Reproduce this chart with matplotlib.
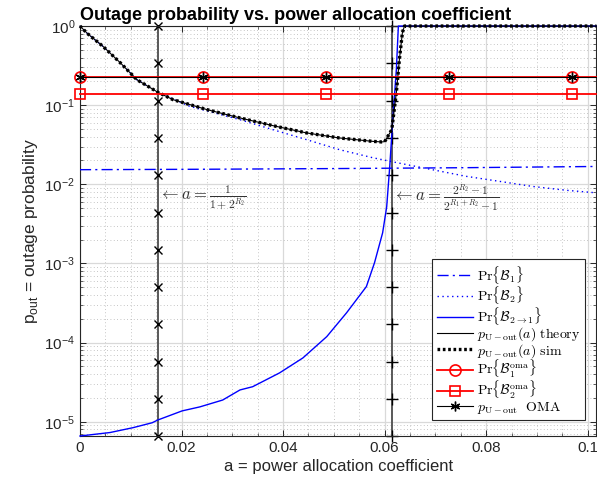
import matplotlib
matplotlib.use("Agg")
import matplotlib.pyplot as plt
from matplotlib.font_manager import FontProperties
from matplotlib.ticker import MultipleLocator, LogLocator, NullFormatter

plt.rcParams["font.family"] = ["Liberation Sans", "DejaVu Sans"]

# values
a_b1 = [0.0, 0.025, 0.05, 0.075, 0.1017]
pr_b1 = [0.0153, 0.0155, 0.0158, 0.0162, 0.0168]

a_b2 = [0.0, 0.0015, 0.0045, 0.0079, 0.0112, 0.0153, 0.0216, 0.0315, 0.038,
        0.0446, 0.0511, 0.0576, 0.0629, 0.0694, 0.0761, 0.0826, 0.0891,
        0.0958, 0.1017]
pr_b2 = [1.0, 0.80, 0.555, 0.345, 0.21, 0.146, 0.0967, 0.0656, 0.049,
         0.0367, 0.0274, 0.0217, 0.0185, 0.0153, 0.0126, 0.0109, 0.0094,
         0.0084, 0.0078]

a_b21 = [0.0, 0.0059, 0.0104, 0.0142, 0.0153, 0.0201, 0.0236, 0.0281, 0.0315,
         0.034, 0.0393, 0.0439, 0.0486, 0.0525, 0.0564, 0.058, 0.0596, 0.0604,
         0.061, 0.0616, 0.0623, 0.0627, 0.1017]
pr_b21 = [6.6e-6, 7.3e-6, 8.4e-6, 9.7e-6, 1.05e-5, 1.37e-5, 1.54e-5, 1.88e-5,
          2.52e-5, 2.77e-5, 4.14e-5, 6.4e-5, 1.19e-4, 2.38e-4, 5.1e-4, 1.02e-3,
          2.44e-3, 5.2e-3, 0.0168, 0.0656, 0.28, 1.0, 1.0]

a_pout = [0.0, 0.0015, 0.0045, 0.0079, 0.0112, 0.0153, 0.0183, 0.025, 0.0315,
          0.038, 0.0446, 0.0511, 0.0576, 0.0594, 0.0600, 0.0614, 0.0623,
          0.0629, 0.0635, 0.0639, 0.1017]
pout_theory = [1.0, 0.80, 0.555, 0.345, 0.21, 0.146, 0.1175, 0.0879, 0.069,
               0.0551, 0.0446, 0.0385, 0.0349, 0.0343, 0.0346, 0.049, 0.144,
               0.377, 0.83, 1.0, 1.0]
pout_sim = [1.0, 0.80, 0.555, 0.345, 0.21, 0.146, 0.1175, 0.0879, 0.069,
            0.0551, 0.0446, 0.0385, 0.0349, 0.0343, 0.0346, 0.049, 0.144,
            0.377, 0.83, 1.0, 1.0]

a_oma = [0.0, 0.0242, 0.0484, 0.0726, 0.0968, 0.1017]
pr_b1_oma = [0.225] * len(a_oma)
pr_b2_oma = [0.139] * len(a_oma)
pout_oma = [0.225] * len(a_oma)

# vertical guide lines and their markers
a_thr1 = 0.0154
a_thr2 = 0.0615
guide_y = [1.0, 0.338, 0.114, 0.0386, 0.0131, 0.0044, 0.00149, 5.0e-4,
           1.7e-4, 5.75e-5, 1.95e-5, 6.6e-6]

fig = plt.figure(figsize=(5.97, 4.91), dpi=100)
ax = fig.add_axes([0.134, 0.112, 0.865, 0.835])

ax.plot([a_thr1] * len(guide_y), guide_y, color="0.35", lw=1.4, marker="x",
        ms=6, mec="k", mew=1.0, clip_on=False, zorder=2)
ax.plot([a_thr2] * len(guide_y), guide_y, color="0.35", lw=1.4, marker="+",
        ms=8, mec="k", mew=1.0, clip_on=False, zorder=2)

ax.plot(a_b1, pr_b1, color="b", lw=1.0, ls=(0, (8, 3, 1.5, 3)),
        label=r"$\mathrm{Pr}\{\mathcal{B}_1\}$", zorder=3)
ax.plot(a_b2, pr_b2, color="b", lw=1.0, ls=(0, (1, 2.5)),
        label=r"$\mathrm{Pr}\{\mathcal{B}_2\}$", clip_on=False, zorder=3)
ax.plot(a_b21, pr_b21, color="b", lw=1.0,
        label=r"$\mathrm{Pr}\{\mathcal{B}_{2\to1}\}$", clip_on=False, zorder=3)
ax.plot(a_pout, pout_theory, color="k", lw=0.8,
        label=r"$p_{\rm U-out}(a)\ \rm theory$", clip_on=False, zorder=4)
ax.plot(a_pout, pout_sim, color="k", lw=2.4, ls=(0, (0.8, 0.8)),
        label=r"$p_{\rm U-out}(a)\ \rm sim$", clip_on=False, zorder=5)
ax.plot(a_oma, pr_b1_oma, color="r", lw=1.3, marker="o", ms=8, mfc="none",
        mew=1.2, markevery=[0, 1, 2, 3, 4], clip_on=False,
        label=r"$\mathrm{Pr}\{\mathcal{B}_1^{\rm oma}\}$", zorder=6)
ax.plot(a_oma, pr_b2_oma, color="r", lw=1.3, marker="s", ms=7, mfc="none",
        mew=1.2, markevery=[0, 1, 2, 3, 4], clip_on=False,
        label=r"$\mathrm{Pr}\{\mathcal{B}_2^{\rm oma}\}$", zorder=6)
ax.plot(a_oma, pout_oma, color="k", lw=0.8, marker=(6, 2, 0), ms=7, mew=1.0,
        markevery=[0, 1, 2, 3, 4], clip_on=False,
        label=r"$p_{\rm U-out}\ \ \rm OMA$", zorder=7)

ax.set_yscale("log")
ax.set_xlim(0, 0.1017)
ax.set_ylim(6.6e-6, 1.0)
ax.xaxis.set_minor_locator(MultipleLocator(0.005))
ax.set_xticks([0, 0.02, 0.04, 0.06, 0.08, 0.1])
ax.set_xticklabels(["0", "0.02", "0.04", "0.06", "0.08", "0.1"])
ax.yaxis.set_major_locator(LogLocator(base=10, numticks=10))
ax.yaxis.set_minor_locator(LogLocator(base=10, subs=range(2, 10), numticks=20))
ax.yaxis.set_minor_formatter(NullFormatter())

ax.grid(True, which="major", color="0.85", lw=0.9, ls="-", zorder=0)
ax.grid(True, which="minor", color="0.7", lw=0.6, ls=(0, (1, 3)), zorder=0)
ax.set_axisbelow(True)

ax.tick_params(which="both", direction="in", top=True, right=True,
               colors="0.15", labelsize=11)
ax.tick_params(which="major", length=4, width=0.7)
ax.tick_params(which="minor", length=2, width=0.5)
for s in ax.spines.values():
    s.set_color("0.15")
    s.set_linewidth(0.8)

ax.set_xlabel("a = power allocation coefficient", fontsize=12, color="0.15",
              labelpad=3)
ax.set_ylabel(r"p$_{\mathregular{out}}$ = outage probability", fontsize=12.5,
              color="0.15", labelpad=3)
ax.set_title("Outage probability vs. power allocation coefficient",
             loc="left", fontsize=13, fontweight="bold", pad=4)

ax.text(a_thr1 + 0.0002, 0.0068, r"$\leftarrow a = \frac{1}{1+2^{R_2}}$",
        fontsize=12, va="center", ha="left", color="0.2",
        math_fontfamily="cm", zorder=8)
ax.text(a_thr2 + 0.0002, 0.0068,
        r"$\leftarrow a = \frac{2^{R_2}-1}{2^{R_1+R_2}-1}$",
        fontsize=12, va="center", ha="left", color="0.2",
        math_fontfamily="cm", zorder=8)

leg = ax.legend(loc="lower right", bbox_to_anchor=(0.977, 0.039),
                prop=FontProperties(size=10, math_fontfamily="cm"),
                fancybox=False, framealpha=1, edgecolor="0.15",
                handlelength=2.6, handletextpad=0.3, labelspacing=-0.1,
                borderpad=0.3, borderaxespad=0)
leg.get_frame().set_linewidth(0.8)
leg.set_zorder(10)

fig.savefig("out.png", dpi=100)
